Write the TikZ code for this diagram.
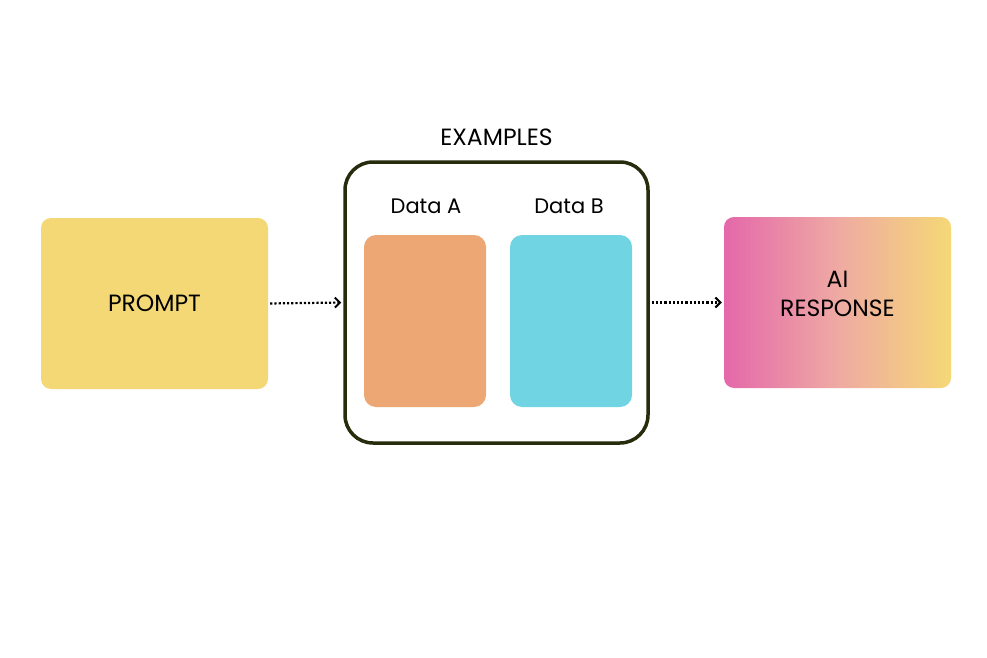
\documentclass[tikz,border=0pt]{standalone}
\usepackage{fontspec}
\setmainfont{Poppins}
\usetikzlibrary{positioning,arrows.meta}

\definecolor{promptyellow}{RGB}{245,216,118}
\definecolor{dataorange}{RGB}{236,167,116}
\definecolor{datacyan}{RGB}{112,212,226}
\definecolor{respink}{RGB}{228,104,170}
\definecolor{framegreen}{RGB}{38,44,12}

\tikzset{
	card/.style={rounded corners=10pt, minimum width=227pt, minimum height=171pt, inner sep=0pt, font=\fontsize{23.5}{29}\selectfont, align=center},
	datacard/.style={rounded corners=12pt, minimum width=122pt, minimum height=172pt, inner sep=0pt},
	lbl/.style={font=\fontsize{21}{26}\selectfont, inner sep=0pt},
	flow/.style={line width=2.2pt, dash pattern=on 2.2pt off 2pt, -{Straight Barb[length=5pt,width=10pt,line width=2pt]}}
}

\begin{document}
\begin{tikzpicture}[x=1pt,y=-1pt]
		\useasboundingbox[fill=white] (0,0) rectangle (987,658);
		% left and right cards
		\node[card, fill=promptyellow] (prompt) at (154.5,303.5) {PROMPT};
		\node[card, left color=respink, right color=promptyellow, middle color=respink!55!promptyellow!85!white] (response) at (837.5,302.5) {};
		\node[card, minimum width=0pt, minimum height=0pt] (resplabel) at (837.5,293.5) {AI\\RESPONSE};
		% examples frame
		\node[draw=framegreen, line width=3.5pt, rounded corners=28pt, minimum width=303pt, minimum height=281pt, inner sep=0pt] (examples) at (496.5,302.5) {};
		\node[lbl, font=\fontsize{23.5}{28}\selectfont] (exlabel) at (496.5,137) {EXAMPLES};
		\node[datacard, fill=dataorange] (dataa) at (425,321) {};
		\node[datacard, fill=datacyan] (datab) at (571,321) {};
		\node[lbl] (alabel) at (426,206) {Data A};
		\node[lbl] (blabel) at (569,206) {Data B};
		% connectors
		\draw[flow, shorten <=2pt, shorten >=2pt] (prompt.east) -- (examples.west);
		\draw[flow, shorten <=2pt, shorten >=2pt] (examples.east) -- (response.west);
	\end{tikzpicture}
\end{document}
